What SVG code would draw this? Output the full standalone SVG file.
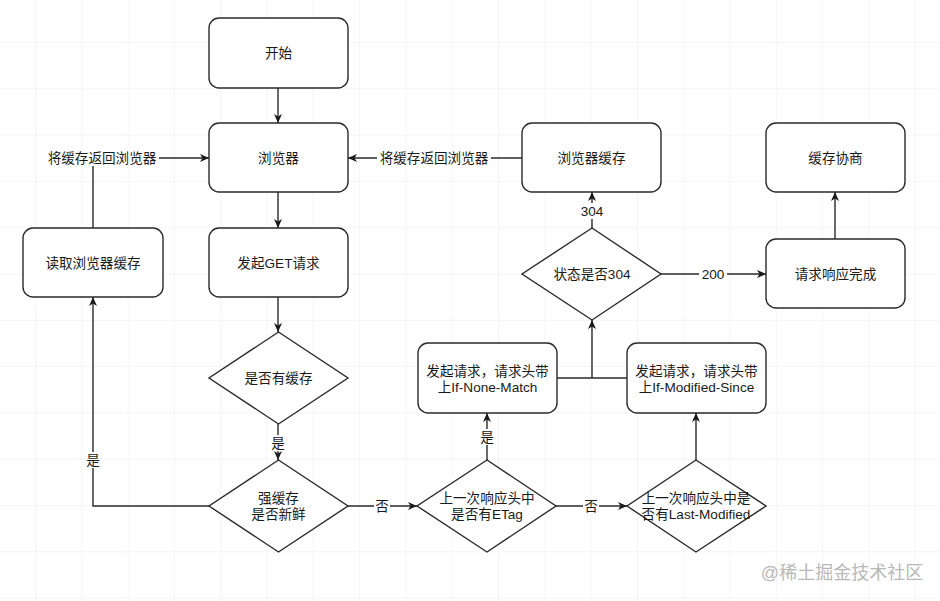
<svg xmlns="http://www.w3.org/2000/svg" width="940" height="601" viewBox="0 0 940 601">
<defs>
<pattern id="grid" x="35" y="42" width="46.3" height="46.3" patternUnits="userSpaceOnUse">
<path d="M0 0 V46.3 M0 0 H46.3" fill="none" stroke="#ebebeb" stroke-width="1"/>
</pattern>
<marker id="arr" markerWidth="10" markerHeight="10" refX="9" refY="5" orient="auto" markerUnits="userSpaceOnUse">
<path d="M0 1 L9 5 L0 9 L2.5 5 Z" fill="#1a1a1a"/>
</marker>
<style>
.n{fill:#fff;stroke:#2a2a2a;stroke-width:1.4}
.t{font-family:"Liberation Sans","Noto Sans CJK SC",sans-serif;font-size:13.6px;fill:#1a1a1a;text-anchor:middle;dominant-baseline:central}
.e{fill:none;stroke:#2a2a2a;stroke-width:1.4}
.lb{fill:#fff}
</style>
</defs>
<rect width="940" height="601" fill="#fff"/>
<rect width="940" height="601" fill="url(#grid)"/>

<g id="connectors">
<path class="e" d="M278 88 V123" marker-end="url(#arr)"/>
<path class="e" d="M278 192 V228" marker-end="url(#arr)"/>
<path class="e" d="M278 297 V332" marker-end="url(#arr)"/>
<path class="e" d="M278 424 V460" marker-end="url(#arr)"/>
<path class="e" d="M209 506 H93 V297" marker-end="url(#arr)"/>
<path class="e" d="M93 228 V158 H209" marker-end="url(#arr)"/>
<path class="e" d="M522 158 H348" marker-end="url(#arr)"/>
<path class="e" d="M348 506 H417" marker-end="url(#arr)"/>
<path class="e" d="M487 460 V413" marker-end="url(#arr)"/>
<path class="e" d="M556 506 H627" marker-end="url(#arr)"/>
<path class="e" d="M696 460 V413" marker-end="url(#arr)"/>
<path class="e" d="M557 378 H627"/>
<path class="e" d="M592 378 V320" marker-end="url(#arr)"/>
<path class="e" d="M592 228 V192" marker-end="url(#arr)"/>
<path class="e" d="M661 274 H766" marker-end="url(#arr)"/>
<path class="e" d="M835 239 V192" marker-end="url(#arr)"/>
<rect class="lb" x="45" y="150" width="114" height="16"/>
<text class="t" x="102" y="158">将缓存返回浏览器</text>
<rect class="lb" x="377" y="150" width="114" height="16"/>
<text class="t" x="434" y="158">将缓存返回浏览器</text>
<rect class="lb" x="270" y="435" width="16" height="16"/>
<text class="t" x="278" y="443">是</text>
<rect class="lb" x="85" y="452" width="16" height="16"/>
<text class="t" x="93" y="460">是</text>
<rect class="lb" x="374" y="498" width="16" height="16"/>
<text class="t" x="382" y="506">否</text>
<rect class="lb" x="479" y="429" width="16" height="16"/>
<text class="t" x="487" y="437">是</text>
<rect class="lb" x="583" y="498" width="16" height="16"/>
<text class="t" x="591" y="506">否</text>
<rect class="lb" x="578" y="203" width="28" height="16"/>
<text class="t" x="592" y="211">304</text>
<rect class="lb" x="699" y="266" width="28" height="16"/>
<text class="t" x="713" y="274">200</text>
</g>

<g id="start"><rect class="n" x="209" y="18" width="139" height="70" rx="10"/><text class="t" x="278.5" y="53">开始</text></g>
<g id="browser"><rect class="n" x="209" y="123" width="139" height="69" rx="10"/><text class="t" x="278.5" y="158">浏览器</text></g>
<g id="get"><rect class="n" x="209" y="228" width="139" height="69" rx="10"/><text class="t" x="278.5" y="263">发起GET请求</text></g>
<g id="read"><rect class="n" x="23" y="228" width="140" height="69" rx="10"/><text class="t" x="93" y="263">读取浏览器缓存</text></g>
<g id="hascache"><path class="n" d="M278.5 332 L348 378 L278.5 424 L209 378 Z"/><text class="t" x="278.5" y="378">是否有缓存</text></g>
<g id="fresh"><path class="n" d="M278.5 460 L348 506 L278.5 552 L209 506 Z"/><text class="t" x="278.5" y="498">强缓存</text><text class="t" x="278.5" y="514">是否新鲜</text></g>
<g id="etag"><path class="n" d="M487 460 L556 506 L487 552 L417 506 Z"/><text class="t" x="487" y="498">上一次响应头中</text><text class="t" x="487" y="514">是否有ETag</text></g>
<g id="lastmod"><path class="n" d="M696 460 L766 506 L696 552 L627 506 Z"/><text class="t" x="696" y="498">上一次响应头中是</text><text class="t" x="696" y="514">否有Last-Modified</text></g>
<g id="inm"><rect class="n" x="418" y="343" width="139" height="70" rx="10"/><text class="t" x="487.5" y="371">发起请求，请求头带</text><text class="t" x="487.5" y="387">上If-None-Match</text></g>
<g id="ims"><rect class="n" x="627" y="343" width="139" height="70" rx="10"/><text class="t" x="696.5" y="371">发起请求，请求头带</text><text class="t" x="696.5" y="387">上If-Modified-Since</text></g>
<g id="s304"><path class="n" d="M592 228 L661 274 L592 320 L522 274 Z"/><text class="t" x="592" y="274">状态是否304</text></g>
<g id="bcache"><rect class="n" x="522" y="123" width="139" height="69" rx="10"/><text class="t" x="591.5" y="158">浏览器缓存</text></g>
<g id="nego"><rect class="n" x="766" y="123" width="139" height="69" rx="10"/><text class="t" x="835.5" y="158">缓存协商</text></g>
<g id="done"><rect class="n" x="766" y="239" width="139" height="69" rx="10"/><text class="t" x="835.5" y="274">请求响应完成</text></g>

<text x="842" y="573" style="font-family:'Liberation Sans','Noto Sans CJK SC',sans-serif;font-size:18px;fill:#b8b8b8;text-anchor:middle;dominant-baseline:central">@稀土掘金技术社区</text>
</svg>
